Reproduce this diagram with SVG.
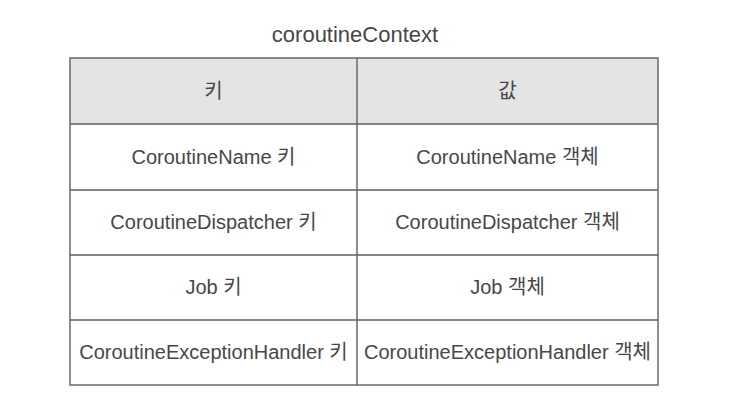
<svg xmlns="http://www.w3.org/2000/svg" width="732" height="404" viewBox="0 0 732 404">
<style>
  text { font-family: "Liberation Sans", "Noto Sans CJK KR", sans-serif; fill: #474747; text-anchor: middle; }
  .title { font-size: 22px; }
  .cell { font-size: 20px; }
  .line { stroke: #5e5e5e; stroke-width: 1.4; fill: none; }
  .head { fill: #e4e4e4; stroke: none; }
</style>
<rect width="732" height="404" fill="#ffffff"/>
<g id="title">
  <text class="title" x="355" y="42">coroutineContext</text>
</g>
<g id="header">
  <rect class="head" x="70" y="58" width="588" height="66"/>
  <text class="cell" x="213.5" y="98">키</text>
  <text class="cell" x="507.5" y="98">값</text>
</g>
<g id="row-name">
  <text class="cell" x="213.5" y="164">CoroutineName 키</text>
  <text class="cell" x="507.5" y="164">CoroutineName 객체</text>
</g>
<g id="row-dispatcher">
  <text class="cell" x="213.5" y="229">CoroutineDispatcher 키</text>
  <text class="cell" x="507.5" y="229">CoroutineDispatcher 객체</text>
</g>
<g id="row-job">
  <text class="cell" x="213.5" y="294">Job 키</text>
  <text class="cell" x="507.5" y="294">Job 객체</text>
</g>
<g id="row-handler">
  <text class="cell" x="213.5" y="359">CoroutineExceptionHandler 키</text>
  <text class="cell" x="507.5" y="359">CoroutineExceptionHandler 객체</text>
</g>
<g id="grid">
  <rect class="line" x="70" y="58" width="588" height="327"/>
  <line class="line" x1="357" y1="58" x2="357" y2="385"/>
  <line class="line" x1="70" y1="124" x2="658" y2="124"/>
  <line class="line" x1="70" y1="190" x2="658" y2="190"/>
  <line class="line" x1="70" y1="255" x2="658" y2="255"/>
  <line class="line" x1="70" y1="320" x2="658" y2="320"/>
</g>
</svg>
